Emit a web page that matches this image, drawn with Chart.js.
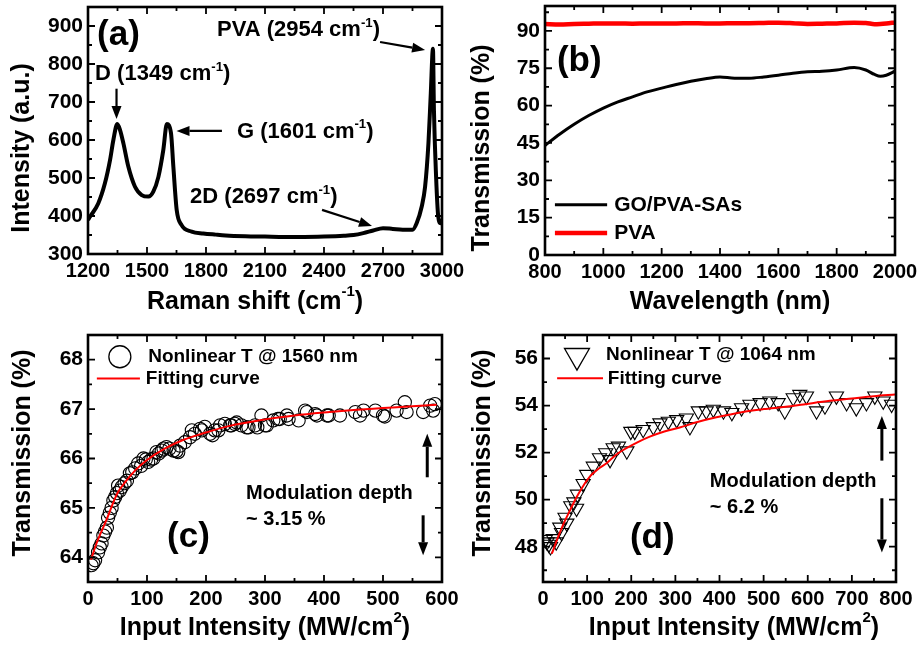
<!DOCTYPE html>
<html>
<head>
<meta charset="utf-8">
<script src="https://cdn.jsdelivr.net/npm/chart.js@4.4.0/dist/chart.umd.min.js"></script>
<style>
  body { margin: 0; background: #fff; width: 921px; height: 646px; position: relative; overflow: hidden; }
  canvas { position: absolute; }
</style>
</head>
<body>
<canvas id="ca" width="480" height="323" style="left:0;top:0"></canvas>
<canvas id="cb" width="461" height="323" style="left:460px;top:0"></canvas>
<canvas id="cc" width="460" height="323" style="left:0;top:323px"></canvas>
<canvas id="cd" width="461" height="323" style="left:460px;top:323px"></canvas>
<script>
// (a) Raman spectrum
const ramanShift = [1200, 1210, 1252, 1286, 1312, 1329, 1349, 1363, 1380, 1405, 1439, 1473, 1507, 1532, 1558, 1583, 1601, 1622, 1634, 1651, 1676, 1727, 1786, 1850, 1900, 2000, 2100, 2200, 2300, 2400, 2500, 2550, 2600, 2650, 2700, 2750, 2800, 2850, 2871, 2897, 2914, 2931, 2943, 2954, 2959, 2970, 2981, 2993, 3000];
const ramanInt = [390, 398, 433, 486, 547, 600, 642, 626, 591, 530, 477, 455, 451, 464, 503, 574, 642, 618, 530, 416, 376, 359, 354, 351, 349, 347, 346, 345, 345, 346, 348, 350, 355, 362, 368, 366, 364, 364, 381, 425, 477, 591, 723, 840, 679, 503, 398, 381, 392];
const ramanXTicks = [1200, 1500, 1800, 2100, 2400, 2700, 3000];
const ramanYTicks = [300, 400, 500, 600, 700, 800, 900];

// (b) linear transmission
const wavelength = [800, 850, 900, 950, 1000, 1050, 1100, 1150, 1200, 1250, 1300, 1350, 1400, 1450, 1500, 1550, 1600, 1650, 1700, 1750, 1800, 1860, 1900, 1930, 1950, 1970, 2000];
const goPvaT = [44, 48.5, 52.5, 56, 59, 61.5, 63.5, 65.5, 67, 68.5, 69.8, 70.8, 71.5, 71, 71, 71.5, 72.2, 73, 73.6, 73.8, 74.3, 75.3, 74.3, 72.5, 71.8, 72.2, 73.8];
const pvaT = [92.8, 92.6, 92.8, 92.9, 93, 93, 92.9, 93, 93, 93, 93.1, 93, 93, 93.1, 93.1, 93.2, 93.3, 93.1, 92.8, 92.9, 93, 93.3, 93.2, 92.7, 92.8, 93, 93.4];
const wlXTicks = [800, 1000, 1200, 1400, 1600, 1800, 2000];
const wlYTicks = [0, 15, 30, 45, 60, 75, 90];

// (c) nonlinear transmission @ 1560 nm
const cIn = [6, 9, 12, 17, 20, 23, 26, 29, 32, 34, 37, 40, 43, 46, 49, 51, 54, 57, 62, 66, 71, 75, 80, 85, 90, 94, 98, 102, 107, 111, 116, 120, 125, 128, 133, 138, 145, 150, 153, 156, 164, 173, 176, 181, 190, 193, 198, 207, 211, 215, 221, 224, 232, 241, 243, 249, 252, 260, 269, 272, 283, 287, 294, 300, 303, 314, 322, 325, 337, 340, 357, 368, 371, 385, 388, 405, 408, 427, 453, 461, 467, 487, 500, 503, 523, 537, 540, 568, 580, 585, 588];
const cT = [63.84, 63.88, 63.94, 64.1, 64.2, 64.28, 64.44, 64.52, 64.6, 64.8, 64.9, 65.0, 65.15, 65.22, 65.3, 65.45, 65.35, 65.42, 65.5, 65.55, 65.7, 65.72, 65.8, 65.9, 65.85, 66.0, 65.98, 65.93, 65.98, 66.0, 66.13, 66.1, 66.16, 66.2, 66.23, 66.2, 66.16, 66.15, 66.13, 66.26, 66.33, 66.43, 66.57, 66.5, 66.6, 66.57, 66.64, 66.5, 66.47, 66.57, 66.57, 66.67, 66.7, 66.67, 66.67, 66.7, 66.73, 66.67, 66.63, 66.63, 66.67, 66.63, 66.87, 66.67, 66.67, 66.77, 66.8, 66.8, 66.87, 66.8, 66.77, 66.97, 66.94, 66.9, 66.87, 66.87, 66.87, 66.87, 66.94, 66.87, 66.97, 66.97, 66.87, 66.85, 66.97, 67.14, 66.94, 66.94, 67.07, 66.97, 67.1];
const cFitIn = [5, 15, 30, 50, 65, 80, 100, 130, 160, 193, 240, 294, 350, 400, 450, 500, 550, 591];
const cFitT = [63.95, 64.3, 64.72, 65.3, 65.55, 65.76, 65.97, 66.2, 66.37, 66.5, 66.66, 66.78, 66.87, 66.93, 66.98, 67.02, 67.06, 67.09];
const cXTicks = [0, 100, 200, 300, 400, 500, 600];
const cYTicks = [64, 65, 66, 67, 68];

// (d) nonlinear transmission @ 1064 nm
const dIn = [5, 9, 13, 17, 23, 30, 38, 42, 50, 54, 63, 70, 76, 78, 91, 99, 114, 128, 142, 152, 159, 171, 190, 199, 208, 227, 250, 265, 284, 303, 325, 333, 352, 370, 386, 409, 428, 450, 469, 492, 514, 533, 548, 567, 582, 597, 620, 639, 665, 688, 710, 733, 752, 771, 790];
const dT = [48.3, 48.2, 48.1, 48.0, 48.34, 48.2, 48.83, 48.6, 49.25, 49.0, 49.74, 49.9, 49.63, 50.23, 50.68, 51.07, 51.42, 51.78, 51.99, 51.7, 52.2, 52.27, 52.07, 52.9, 52.9, 52.98, 53.1, 53.26, 53.33, 53.4, 53.47, 53.1, 53.77, 53.77, 53.84, 53.77, 53.7, 53.9, 54.05, 54.12, 54.19, 54.12, 53.77, 54.33, 54.47, 54.4, 53.77, 53.98, 54.4, 54.12, 53.9, 54.12, 54.4, 54.19, 54.05];
const dFitIn = [20, 35, 46, 60, 76, 90, 107, 125, 144, 165, 190, 215, 242, 275, 310, 350, 393, 450, 500, 550, 590, 650, 700, 750, 798];
const dFitT = [47.7, 48.45, 48.95, 49.5, 50.1, 50.55, 51.0, 51.3, 51.55, 51.9, 52.2, 52.45, 52.68, 52.9, 53.07, 53.3, 53.5, 53.72, 53.85, 53.95, 54.05, 54.2, 54.3, 54.4, 54.47];
const dXTicks = [0, 100, 200, 300, 400, 500, 600, 700, 800];
const dYTicks = [48, 50, 52, 54, 56];

const FONT = '"Liberation Sans", Arial, Helvetica, sans-serif';

function pts(xs, ys) {
  return xs.map((v, i) => ({ x: v, y: ys[i] }));
}

// text with ^{..} superscripts
function rich(ctx, str, x, y, size, align) {
  const parts = str.split(/\^\{([^}]*)\}/);
  const f = s => 'bold ' + s + 'px ' + FONT;
  let w = 0;
  parts.forEach((p, i) => { ctx.font = f(i % 2 ? size * 0.6 : size); w += ctx.measureText(p).width; });
  let cx = align === 'center' ? x - w / 2 : x;
  ctx.textAlign = 'left';
  parts.forEach((p, i) => {
    const sup = i % 2 === 1;
    ctx.font = f(sup ? size * 0.6 : size);
    ctx.fillText(p, cx, sup ? y - size * 0.42 : y);
    cx += ctx.measureText(p).width;
  });
}

function arrow(ctx, x1, y1, x2, y2, w) {
  const ang = Math.atan2(y2 - y1, x2 - x1), hl = 13, hw = 5;
  const bx = x2 - Math.cos(ang) * hl, by = y2 - Math.sin(ang) * hl;
  ctx.lineWidth = w;
  ctx.beginPath(); ctx.moveTo(x1, y1); ctx.lineTo(bx, by); ctx.stroke();
  ctx.beginPath();
  ctx.moveTo(x2, y2);
  ctx.lineTo(bx + Math.sin(ang) * hw, by - Math.cos(ang) * hw);
  ctx.lineTo(bx - Math.sin(ang) * hw, by + Math.cos(ang) * hw);
  ctx.closePath(); ctx.fill();
}

// major ticks plus the half steps between them
function halfSteps(ticks, min, max) {
  const h = (ticks[1] - ticks[0]) / 2;
  let v = ticks[0];
  while (v - h >= min - 1e-9) v -= h;
  const out = [];
  for (; v <= max + 1e-9; v += h) out.push(v);
  return out;
}

// box frame, inward ticks on all sides, axis titles
function framePlugin(o) {
  return {
    id: 'frame',
    afterDraw(chart) {
      const { ctx, chartArea: a } = chart;
      const sx = chart.scales.x, sy = chart.scales.y;
      ctx.save();
      ctx.strokeStyle = '#000';
      ctx.fillStyle = '#000';
      ctx.lineWidth = 1.8;
      ctx.beginPath();
      halfSteps(o.xTicks, sx.min, sx.max).forEach(v => {
        const len = o.xTicks.some(t => Math.abs(t - v) < 1e-6) ? 7 : 4;
        const px = sx.getPixelForValue(v);
        ctx.moveTo(px, a.bottom); ctx.lineTo(px, a.bottom - len);
        ctx.moveTo(px, a.top); ctx.lineTo(px, a.top + len);
      });
      halfSteps(o.yTicks, sy.min, sy.max).forEach(v => {
        const len = o.yTicks.some(t => Math.abs(t - v) < 1e-6) ? 7 : 4;
        const py = sy.getPixelForValue(v);
        ctx.moveTo(a.left, py); ctx.lineTo(a.left + len, py);
        ctx.moveTo(a.right, py); ctx.lineTo(a.right - len, py);
      });
      ctx.stroke();
      ctx.lineWidth = 2.6;
      ctx.strokeRect(a.left, a.top, a.right - a.left, a.bottom - a.top);

      ctx.textBaseline = 'middle';
      rich(ctx, o.xTitle, o.xTitlePos[0], o.xTitlePos[1], 25, 'center');
      ctx.translate(o.yTitlePos[0], o.yTitlePos[1]);
      ctx.rotate(-Math.PI / 2);
      rich(ctx, o.yTitle, 0, 0, 25, 'center');
      ctx.restore();
    }
  };
}

// labels, arrows and hand-made legends, placed in data units
function notesPlugin(items) {
  return {
    id: 'notes',
    afterDraw(chart) {
      const { ctx } = chart;
      const X = v => chart.scales.x.getPixelForValue(v);
      const Y = v => chart.scales.y.getPixelForValue(v);
      ctx.save();
      ctx.fillStyle = '#000';
      ctx.strokeStyle = '#000';
      items.forEach(n => {
        if (n.text) {
          ctx.textBaseline = n.mid ? 'middle' : 'alphabetic';
          rich(ctx, n.text, X(n.x), Y(n.y), n.size, 'left');
        }
        if (n.arrow) {
          arrow(ctx, X(n.arrow[0]), Y(n.arrow[1]), X(n.arrow[2]), Y(n.arrow[3]), n.w || 2.2);
        }
        if (n.line) {
          ctx.save();
          ctx.strokeStyle = n.color;
          ctx.lineWidth = n.w;
          ctx.beginPath();
          ctx.moveTo(X(n.line[0]), Y(n.line[2]));
          ctx.lineTo(X(n.line[1]), Y(n.line[2]));
          ctx.stroke();
          ctx.restore();
        }
        if (n.circle) {
          ctx.lineWidth = 1.3;
          ctx.beginPath();
          ctx.arc(X(n.circle[0]), Y(n.circle[1]), n.r, 0, Math.PI * 2);
          ctx.stroke();
        }
        if (n.tri) {
          const cx = X(n.tri[0]), cy = Y(n.tri[1]), r = n.r;
          ctx.lineWidth = 1.3;
          ctx.beginPath();
          ctx.moveTo(cx, cy + r);
          ctx.lineTo(cx - r * 0.866, cy - r / 2);
          ctx.lineTo(cx + r * 0.866, cy - r / 2);
          ctx.closePath();
          ctx.stroke();
        }
      });
      ctx.restore();
    }
  };
}

function build(id, o) {
  const tickFont = size => ({ family: FONT, size: size, weight: 'bold' });
  return new Chart(document.getElementById(id), {
    type: 'scatter',
    data: { datasets: o.datasets },
    options: {
      responsive: false,
      animation: false,
      events: [],
      layout: { padding: o.padding },
      plugins: { legend: { display: false }, tooltip: { enabled: false } },
      scales: {
        x: {
          type: 'linear', min: o.xMin, max: o.xMax,
          afterBuildTicks: s => { s.ticks = o.xTicks.map(v => ({ value: v })); },
          afterFit: s => { s.height = o.xHeight; s.paddingLeft = 0; s.paddingRight = 0; },
          grid: { display: false, drawTicks: false },
          border: { display: false },
          ticks: { font: tickFont(20), color: '#000', padding: 5, maxRotation: 0, autoSkip: false, callback: v => String(v) }
        },
        y: {
          type: 'linear', min: o.yMin, max: o.yMax,
          afterBuildTicks: s => { s.ticks = o.yTicks.map(v => ({ value: v })); },
          afterFit: s => { s.width = o.yWidth; s.paddingTop = 0; s.paddingBottom = 0; },
          grid: { display: false, drawTicks: false },
          border: { display: false },
          ticks: { font: tickFont(21), color: '#000', padding: 5, autoSkip: false, callback: v => String(v) }
        }
      }
    },
    plugins: [framePlugin(o), notesPlugin(o.notes)]
  });
}

const lineSet = (data, color, width) => ({
  data: data, showLine: true, borderColor: color, borderWidth: width,
  pointRadius: 0, cubicInterpolationMode: 'monotone'
});

build('ca', {
  datasets: [lineSet(pts(ramanShift, ramanInt), '#000', 4)],
  xMin: 1200, xMax: 3000, xTicks: ramanXTicks,
  yMin: 300, yMax: 950, yTicks: ramanYTicks,
  padding: { left: 0, right: 38, top: 7, bottom: 0 }, yWidth: 88, xHeight: 69,
  xTitle: 'Raman shift (cm^{-1})', xTitlePos: [255, 302],
  yTitle: 'Intensity (a.u.)', yTitlePos: [22, 148],
  notes: [
    { text: '(a)', x: 1246, y: 850, size: 35 },
    { text: 'D (1349 cm^{-1})', x: 1236, y: 758, size: 22 },
    { arrow: [1345, 735, 1345, 655] },
    { text: 'G (1601 cm^{-1})', x: 1958, y: 606, size: 22 },
    { arrow: [1881, 624, 1650, 624] },
    { text: '2D (2697 cm^{-1})', x: 1719, y: 434, size: 22 },
    { arrow: [2390, 416, 2644, 374] },
    { text: 'PVA (2954 cm^{-1})', x: 1856, y: 874, size: 22 },
    { arrow: [2685, 858, 2914, 837] }
  ]
});

build('cb', {
  datasets: [
    lineSet(pts(wavelength, goPvaT), '#000', 3),
    lineSet(pts(wavelength, pvaT), '#f00', 4.5)
  ],
  xMin: 800, xMax: 2000, xTicks: wlXTicks,
  yMin: 0, yMax: 100, yTicks: wlYTicks,
  padding: { left: 0, right: 26, top: 6, bottom: 0 }, yWidth: 85, xHeight: 68,
  xTitle: 'Wavelength (nm)', xTitlePos: [270, 302],
  yTitle: 'Transmission (%)', yTitlePos: [22, 148],
  notes: [
    { text: '(b)', x: 841, y: 74, size: 35 },
    { line: [834, 1013, 20.2], color: '#000', w: 3 },
    { text: 'GO/PVA-SAs', x: 1037, y: 20, size: 21, mid: true },
    { line: [834, 1013, 8.8], color: '#f00', w: 4.5 },
    { text: 'PVA', x: 1037, y: 8.6, size: 21, mid: true }
  ]
});

build('cc', {
  datasets: [
    lineSet(pts(cFitIn, cFitT), '#f00', 2),
    { data: pts(cIn, cT), pointStyle: 'circle', pointRadius: 6.6, pointBorderWidth: 1.1,
      pointBorderColor: '#000', pointBackgroundColor: 'rgba(0,0,0,0)', showLine: false }
  ],
  xMin: 0, xMax: 600, xTicks: cXTicks,
  yMin: 63.5, yMax: 68.5, yTicks: cYTicks,
  padding: { left: 0, right: 18, top: 12, bottom: 0 }, yWidth: 88, xHeight: 64,
  xTitle: 'Input Intensity (MW/cm^{2})', xTitlePos: [265, 305],
  yTitle: 'Transmission (%)', yTitlePos: [23, 130],
  notes: [
    { circle: [54, 68.06], r: 11 },
    { text: 'Nonlinear T @ 1560 nm', x: 102, y: 68.06, size: 19, mid: true },
    { line: [15, 88, 67.62], color: '#f00', w: 2 },
    { text: 'Fitting curve', x: 98, y: 67.62, size: 19, mid: true },
    { text: '(c)', x: 134, y: 64.2, size: 35 },
    { text: 'Modulation depth', x: 268, y: 65.29, size: 20, mid: true },
    { text: '~ 3.15 %', x: 268, y: 64.77, size: 20, mid: true },
    { arrow: [575, 65.62, 575, 66.5], w: 3 },
    { arrow: [568, 64.85, 568, 64.04], w: 3 }
  ]
});

build('cd', {
  datasets: [
    lineSet(pts(dFitIn, dFitT), '#f00', 2),
    { data: pts(dIn, dT), pointStyle: 'triangle', rotation: 180, pointRadius: 8.2, pointBorderWidth: 1.1,
      pointBorderColor: '#000', pointBackgroundColor: 'rgba(0,0,0,0)', showLine: false }
  ],
  xMin: 0, xMax: 800, xTicks: dXTicks,
  yMin: 46.5, yMax: 57, yTicks: dYTicks,
  padding: { left: 0, right: 25, top: 12, bottom: 0 }, yWidth: 83, xHeight: 64,
  xTitle: 'Input Intensity (MW/cm^{2})', xTitlePos: [274, 305],
  yTitle: 'Transmission (%)', yTitlePos: [23, 130],
  notes: [
    { tri: [77, 56.12], r: 14.4 },
    { text: 'Nonlinear T @ 1064 nm', x: 143, y: 56.17, size: 19, mid: true },
    { line: [32, 136, 55.16], color: '#f00', w: 2 },
    { text: 'Fitting curve', x: 147, y: 55.16, size: 19, mid: true },
    { text: '(d)', x: 197, y: 47.96, size: 35 },
    { text: 'Modulation depth', x: 378, y: 50.78, size: 20, mid: true },
    { text: '~ 6.2 %', x: 378, y: 49.68, size: 20, mid: true },
    { arrow: [768, 51.66, 768, 53.56], w: 3 },
    { arrow: [768, 50.06, 768, 47.75], w: 3 }
  ]
});
</script>
</body>
</html>
